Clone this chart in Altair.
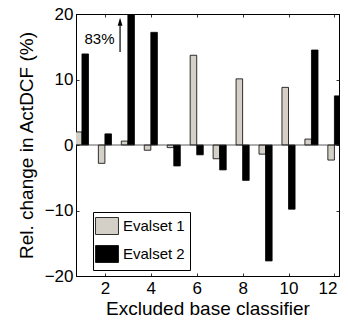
import altair as alt
import pandas as pd

classifiers = list(range(1, 13))
evalset1 = [2.0, -2.8, 0.6, -0.8, -0.4, 13.7, -2.1, 10.1, -1.4, 8.8, 0.9, -2.3]
evalset2 = [13.9, 1.7, 83.0, 17.2, -3.2, -1.5, -3.8, -5.4, -17.7, -9.8, 14.5, 7.5]
series_names = ["Evalset 1", "Evalset 2"]
series_colors = ["#d4d0c8", "#000000"]

x_ticks = [2, 4, 6, 8, 10, 12]
y_ticks = [-20, -10, 0, 10, 20]
x_domain = [0.74, 12.2]
y_domain = [-20, 20]

annot_text = ["83%"]
annot_x = [2.42]
annot_y = [16.2]
arrow_x = [2.66]
arrow_y0 = [14.2]
arrow_y1 = [18.3]
arrowhead_y = [18.8]

rows = []
for i, c in enumerate(classifiers):
    rows.append({"cls": c, "series": series_names[0], "val": evalset1[i], "k": 0})
    rows.append({"cls": c, "series": series_names[1], "val": evalset2[i], "k": 1})
df = pd.DataFrame(rows)

FONT = "Liberation Sans"
BW = 0.286
last_tick = x_ticks[-1]

xs = alt.Scale(domain=x_domain, nice=False, zero=False)
ys = alt.Scale(domain=y_domain, nice=False, zero=False)

base = alt.Chart(df).transform_calculate(
    x0=f"datum.cls + (datum.k - 1) * {BW}",
    x1=f"datum.cls + datum.k * {BW}",
)

lab_x = alt.Axis(values=x_ticks, ticks=False, domain=True, domainColor="black", domainWidth=1,
                 grid=False, labelFontSize=17,
                 labelAlign={"condition": {"test": f"datum.value == {last_tick}", "value": "right"},
                             "value": "center"},
                 labelOffset={"condition": {"test": f"datum.value == {last_tick}", "value": 2.5},
                              "value": 0},
                 labelPadding=4, labelColor="black", labelFont=FONT,
                 title="Excluded base classifier", titleFontSize=19, titleFont=FONT,
                 titleFontWeight="normal", titleColor="black", titleY=38,
                 titleBaseline="alphabetic")
lab_y = alt.Axis(values=y_ticks, ticks=False, domain=True, domainColor="black", domainWidth=1,
                 grid=False, labelFontSize=17,
                 labelPadding=3, labelColor="black", labelFont=FONT,
                 title="Rel. change in ActDCF (%)", titleFontSize=19, titleFont=FONT,
                 titleFontWeight="normal", titleColor="black", titleX=-44,
                 titleBaseline="alphabetic")

bars = base.mark_bar(clip=True, stroke="black", strokeWidth=0.8).encode(
    x=alt.X("x0:Q", scale=xs, axis=lab_x),
    x2="x1:Q",
    y=alt.Y("val:Q", scale=ys, axis=lab_y),
    y2=alt.datum(0),
    color=alt.Color("series:N", scale=alt.Scale(domain=series_names, range=series_colors),
                    legend=alt.Legend(title=None, orient="none", legendX=17, legendY=198,
                                      strokeColor="black", fillColor="white", padding=5,
                                      symbolType="M-1.35,-1H1.35V1H-1.35Z", symbolSize=289,
                                      symbolStrokeColor="black", symbolStrokeWidth=0.8,
                                      labelFontSize=15, labelFont=FONT, labelColor="black",
                                      labelOffset=7, rowPadding=6, cornerRadius=0)),
)

def tick_axis(orient, vals):
    return alt.Axis(orient=orient, values=vals, offset=-3, tickSize=3, ticks=True,
                    tickColor="black", tickWidth=0.8, labels=False, domain=False,
                    grid=False, title=None)

def frame_axis(orient):
    return alt.Axis(orient=orient, ticks=False, labels=False, domain=True,
                    domainColor="black", domainWidth=1, grid=False, title=None)

ticks_bl = base.mark_point(opacity=0).encode(
    x=alt.X("x0:Q", scale=xs, axis=tick_axis("bottom", x_ticks)),
    y=alt.Y("val:Q", scale=ys, axis=tick_axis("left", y_ticks)),
)
ticks_tr = base.mark_point(opacity=0).encode(
    x=alt.X("x0:Q", scale=xs, axis=tick_axis("top", x_ticks)),
    y=alt.Y("val:Q", scale=ys, axis=tick_axis("right", y_ticks)),
)
frame_tr = base.mark_point(opacity=0).encode(
    x=alt.X("x0:Q", scale=xs, axis=frame_axis("top")),
    y=alt.Y("val:Q", scale=ys, axis=frame_axis("right")),
)

zero = alt.Chart(pd.DataFrame({"z": [0]})).mark_rule(color="#333333", strokeWidth=0.8).encode(
    y=alt.Y("z:Q", scale=ys, axis=None)
)

adf = pd.DataFrame({"t": annot_text, "x": annot_x, "y": annot_y,
                    "ax": arrow_x, "ay0": arrow_y0, "ay1": arrow_y1, "ah": arrowhead_y})
atext = alt.Chart(adf).mark_text(align="right", baseline="middle", fontSize=15, font=FONT,
                                 color="black").encode(
    x=alt.X("x:Q", scale=xs, axis=None), y=alt.Y("y:Q", scale=ys, axis=None), text="t:N")
ashaft = alt.Chart(adf).mark_rule(color="black", strokeWidth=1.2).encode(
    x=alt.X("ax:Q", scale=xs, axis=None), y=alt.Y("ay0:Q", scale=ys, axis=None), y2="ay1:Q")
ahead = alt.Chart(adf).mark_point(shape="M0,-1L0.6,1L-0.6,1Z", size=64, filled=True,
                                  color="black", opacity=1).encode(
    x=alt.X("ax:Q", scale=xs, axis=None), y=alt.Y("ah:Q", scale=ys, axis=None))

chart = alt.layer(bars, zero, ticks_bl, ticks_tr, frame_tr, atext, ashaft, ahead).resolve_axis(
    x="independent", y="independent"
).properties(
    width=263, height=262,
    autosize=alt.AutoSizeParams(type="none"),
    padding={"left": 68, "top": 6, "right": 1, "bottom": 39},
    background="white",
).configure_view(stroke="black", strokeWidth=1)

chart.save("out.html", embed_options={"renderer": "svg", "actions": False})
